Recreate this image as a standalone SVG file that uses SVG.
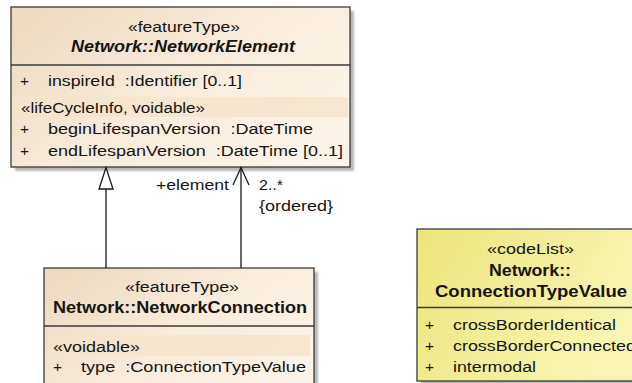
<svg xmlns="http://www.w3.org/2000/svg" width="632" height="383" viewBox="0 0 632 383">
<defs>
<linearGradient id="gFeat" x1="0" y1="0" x2="1" y2="0.6">
<stop offset="0" stop-color="#ecd9be"/>
<stop offset="0.6" stop-color="#f8ecdc"/>
<stop offset="1" stop-color="#fcf4e8"/>
</linearGradient>
<linearGradient id="gCode" x1="0" y1="0" x2="1" y2="0.4">
<stop offset="0" stop-color="#ebe57a"/>
<stop offset="1" stop-color="#f8f5b4"/>
</linearGradient>
<filter id="blur" x="-10%" y="-10%" width="120%" height="120%">
<feGaussianBlur stdDeviation="1.2"/>
</filter>
</defs>
<style>
.box{stroke:#3a3a3a;stroke-width:1.3}
.shadow{fill:#9a9a9a;opacity:0.7;filter:url(#blur)}
.sep{stroke:#3a3a3a;stroke-width:1.3}
.band{fill:#f5e3cc;opacity:0.8}
text{font-family:"Liberation Sans",Arial,sans-serif;font-size:15.5px;fill:#151515;white-space:pre}
.b{font-weight:bold;font-size:16px}
.bi{font-weight:bold;font-style:italic;font-size:16px}
.line{stroke:#1a1a1a;stroke-width:1.3;fill:none}
</style>
<rect width="632" height="383" fill="#ffffff"/>

<g id="NetworkElement">
<rect class="shadow" x="15" y="11" width="339" height="160"/>
<rect class="box" x="11" y="7" width="339" height="160" fill="url(#gFeat)"/>
<line class="sep" x1="11" y1="65" x2="350" y2="65"/>
<rect class="band" x="15" y="97" width="333" height="20"/>
<text x="128" y="32" textLength="112" lengthAdjust="spacingAndGlyphs">«featureType»</text>
<text class="bi" x="71" y="52" textLength="224" lengthAdjust="spacingAndGlyphs">Network::NetworkElement</text>
<text x="20" y="86">+</text>
<text x="48" y="86" textLength="194" lengthAdjust="spacingAndGlyphs">inspireId  :Identifier [0..1]</text>
<text x="21" y="113" textLength="184" lengthAdjust="spacingAndGlyphs">«lifeCycleInfo, voidable»</text>
<text x="20" y="134">+</text>
<text x="48" y="134" textLength="265" lengthAdjust="spacingAndGlyphs">beginLifespanVersion  :DateTime</text>
<text x="20" y="156">+</text>
<text x="48" y="156" textLength="295" lengthAdjust="spacingAndGlyphs">endLifespanVersion  :DateTime [0..1]</text>
</g>

<g id="NetworkConnection">
<rect class="shadow" x="48" y="272" width="270" height="130"/>
<rect class="box" x="44" y="268" width="270" height="130" fill="url(#gFeat)"/>
<line class="sep" x1="44" y1="326" x2="314" y2="326"/>
<rect class="band" x="49" y="335" width="261" height="21"/>
<text x="125" y="292" textLength="114" lengthAdjust="spacingAndGlyphs">«featureType»</text>
<text class="b" x="53" y="313" textLength="254" lengthAdjust="spacingAndGlyphs">Network::NetworkConnection</text>
<text x="53" y="352" textLength="87" lengthAdjust="spacingAndGlyphs">«voidable»</text>
<text x="53" y="372">+</text>
<text x="81" y="372" textLength="225" lengthAdjust="spacingAndGlyphs">type  :ConnectionTypeValue</text>
</g>

<g id="ConnectionTypeValue">
<rect class="shadow" x="421" y="233" width="230" height="152"/>
<rect class="box" x="417" y="229" width="230" height="152" fill="url(#gCode)"/>
<line class="sep" x1="417" y1="307.5" x2="647" y2="307.5"/>
<text x="487" y="254" textLength="87" lengthAdjust="spacingAndGlyphs">«codeList»</text>
<text class="b" x="489" y="276" textLength="82" lengthAdjust="spacingAndGlyphs">Network::</text>
<text class="b" x="435" y="297" textLength="192" lengthAdjust="spacingAndGlyphs">ConnectionTypeValue</text>
<text x="425" y="330">+</text>
<text x="453" y="330" textLength="163" lengthAdjust="spacingAndGlyphs">crossBorderIdentical</text>
<text x="425" y="351">+</text>
<text x="453" y="351" textLength="183" lengthAdjust="spacingAndGlyphs">crossBorderConnected</text>
<text x="425" y="372">+</text>
<text x="453" y="372" textLength="83" lengthAdjust="spacingAndGlyphs">intermodal</text>
</g>

<g id="connectors">
<g id="generalization">
<line class="line" x1="106" y1="268" x2="106" y2="189"/>
<polygon points="106,167.5 99,189 113,189" fill="#ffffff" stroke="#1a1a1a" stroke-width="1.3"/>
</g>
<g id="association">
<line class="line" x1="241" y1="268" x2="241" y2="167.5"/>
<polyline class="line" points="233,185 241,167.5 249,185"/>
<text x="156" y="190" textLength="73" lengthAdjust="spacingAndGlyphs">+element</text>
<text x="259" y="190" textLength="24" lengthAdjust="spacingAndGlyphs">2..*</text>
<text x="259" y="211" textLength="74" lengthAdjust="spacingAndGlyphs">{ordered}</text>
</g>
</g>
</svg>
